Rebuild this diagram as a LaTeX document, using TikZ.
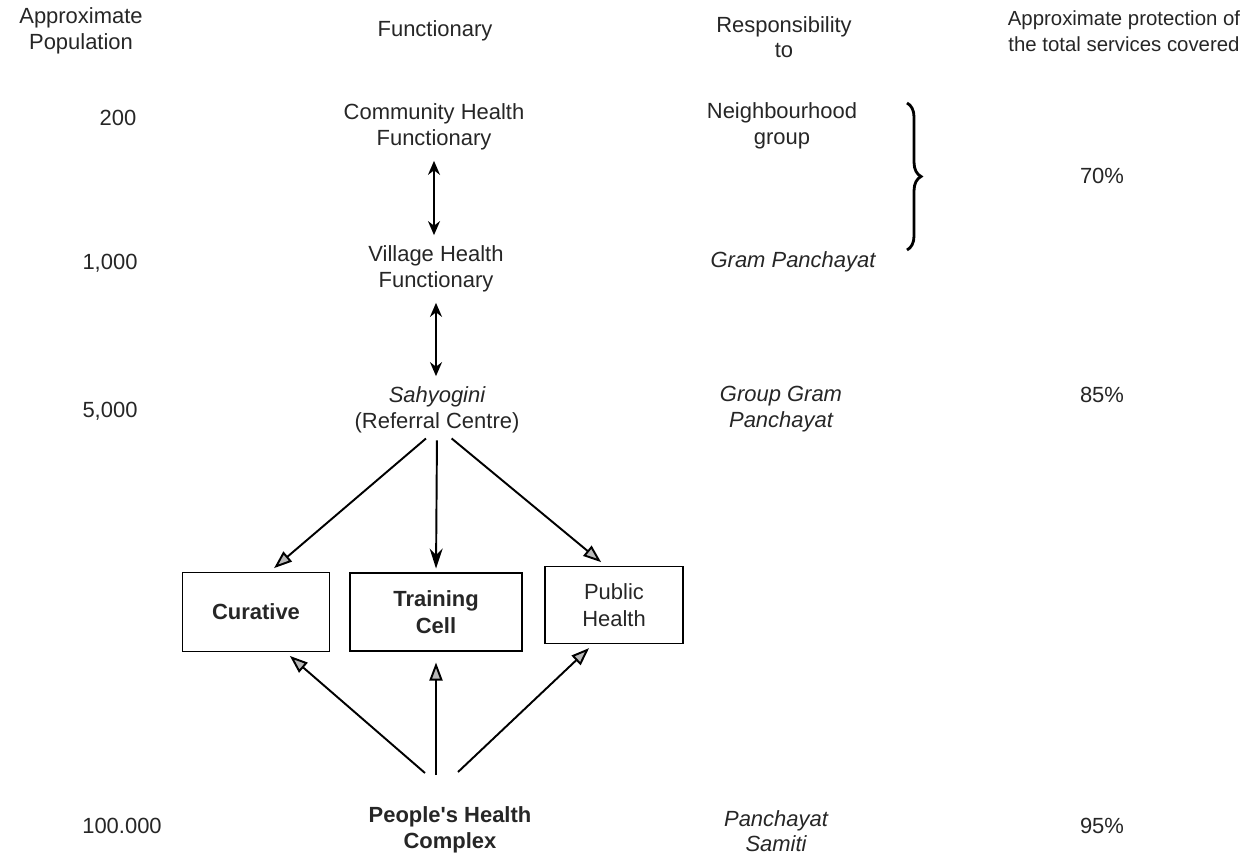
\documentclass[tikz,border=0pt]{standalone}
\usepackage{fontspec}
\setmainfont{Liberation Sans}
\usepackage{tikz}
\usetikzlibrary{positioning,arrows.meta,decorations.pathreplacing}

\begin{document}
\begin{tikzpicture}[
    x=0.02cm, y=-0.02cm,
    every node/.style={font=\fontsize{12.5}{14.5}\selectfont, text=black!85, inner sep=1pt},
    lbl/.style={align=center},
    itl/.style={align=center, font=\fontsize{12.5}{14.5}\selectfont\itshape},
    unit/.style={draw, line width=1.1pt, align=center, font=\fontsize{12.5}{15}\selectfont\bfseries},
    dbl/.style={{Stealth[length=2.8mm,width=2.4mm]}-{Stealth[length=2.8mm,width=2.4mm]}, line width=1.1pt, shorten <=5pt, shorten >=5pt},
    arr/.style={-{Stealth[length=4mm,width=2.6mm]}, line width=1.1pt},
    hatch/.style={-{Triangle[length=3.6mm,width=2.6mm,fill=gray!55]}, line width=1.1pt}
]
\useasboundingbox (0,0) rectangle (1244,862);

% column headings
\node[lbl] (hpop) at (81,31) {Approximate\\Population};
\node[lbl] (hfun) at (435,31) {Functionary};
\node[lbl] (hres) at (784,37) {Responsibility\\to};
\node[lbl, font=\fontsize{11.6}{14.5}\selectfont] (hpro) at (1124,31) {Approximate protection of\\the total services covered};

% population
\node (p200) at (118,118) {200};
\node (p1000) at (110,263) {1,000};
\node (p5000) at (110,411) {5,000};
\node (p100k) at (122,826) {100.000};

% functionaries
\node[lbl] (chf) at (434,127) {Community Health\\Functionary};
\node[lbl] (vhf) at (436,269) {Village Health\\Functionary};
\node[lbl] (sah) at (437,410) {\itshape Sahyogini\\(Referral Centre)};
\node[unit, minimum width=2.94cm, minimum height=1.58cm] (cur) at (256,612) {Curative};
\node[unit, minimum width=3.44cm, minimum height=1.56cm] (trn) at (436,612) {Training\\Cell};
\node[unit, font=\fontsize{12.5}{15}\selectfont, minimum width=2.76cm, minimum height=1.54cm] (pub) at (614,605) {Public\\Health};
\node[lbl, font=\fontsize{12.5}{15}\selectfont\bfseries] (phc) at (450,830) {People\textquotesingle s Health\\Complex};

% responsibility
\node[lbl] (ngp) at (782,126) {Neighbourhood\\group};
\node[itl] (gram) at (793,262) {Gram Panchayat};
\node[itl] (ggp) at (781,409) {Group Gram\\Panchayat};
\node[itl] (pss) at (776,831) {Panchayat\\Samiti};

% protection
\node (r70) at (1102,176) {70\%};
\node (r85) at (1102,395) {85\%};
\node (r95) at (1102,826) {95\%};

\coordinate (btop) at (907,103);
\coordinate (bbot) at (907,250);
\draw[decorate, decoration={brace, amplitude=8pt}, line width=1.6pt] (btop) -- (bbot);

\coordinate (hl) at (425,773);
\coordinate (hc) at (436,775);
\coordinate (hr) at (458,772);

\draw[dbl] (chf.south) -- (chf.south |- vhf.north);
\draw[dbl] (vhf.south) -- (vhf.south |- sah.north);
\draw[hatch, shorten <=3pt, shorten >=3pt] ([xshift=-4pt]sah.south) -- ([xshift=8pt]cur.north);
\draw[arr, shorten <=3pt, shorten >=2pt] (sah.south) -- (trn.north);
\draw[hatch, shorten <=3pt, shorten >=3pt] ([xshift=6pt]sah.south) -- ([xshift=-5pt]pub.north);
\draw[hatch, shorten >=3pt] (hl) -- ([xshift=17pt]cur.south);
\draw[hatch, shorten >=6pt] (hc) -- (trn.south);
\draw[hatch, shorten >=3pt] (hr) -- ([xshift=-12pt]pub.south);
\end{tikzpicture}
\end{document}
